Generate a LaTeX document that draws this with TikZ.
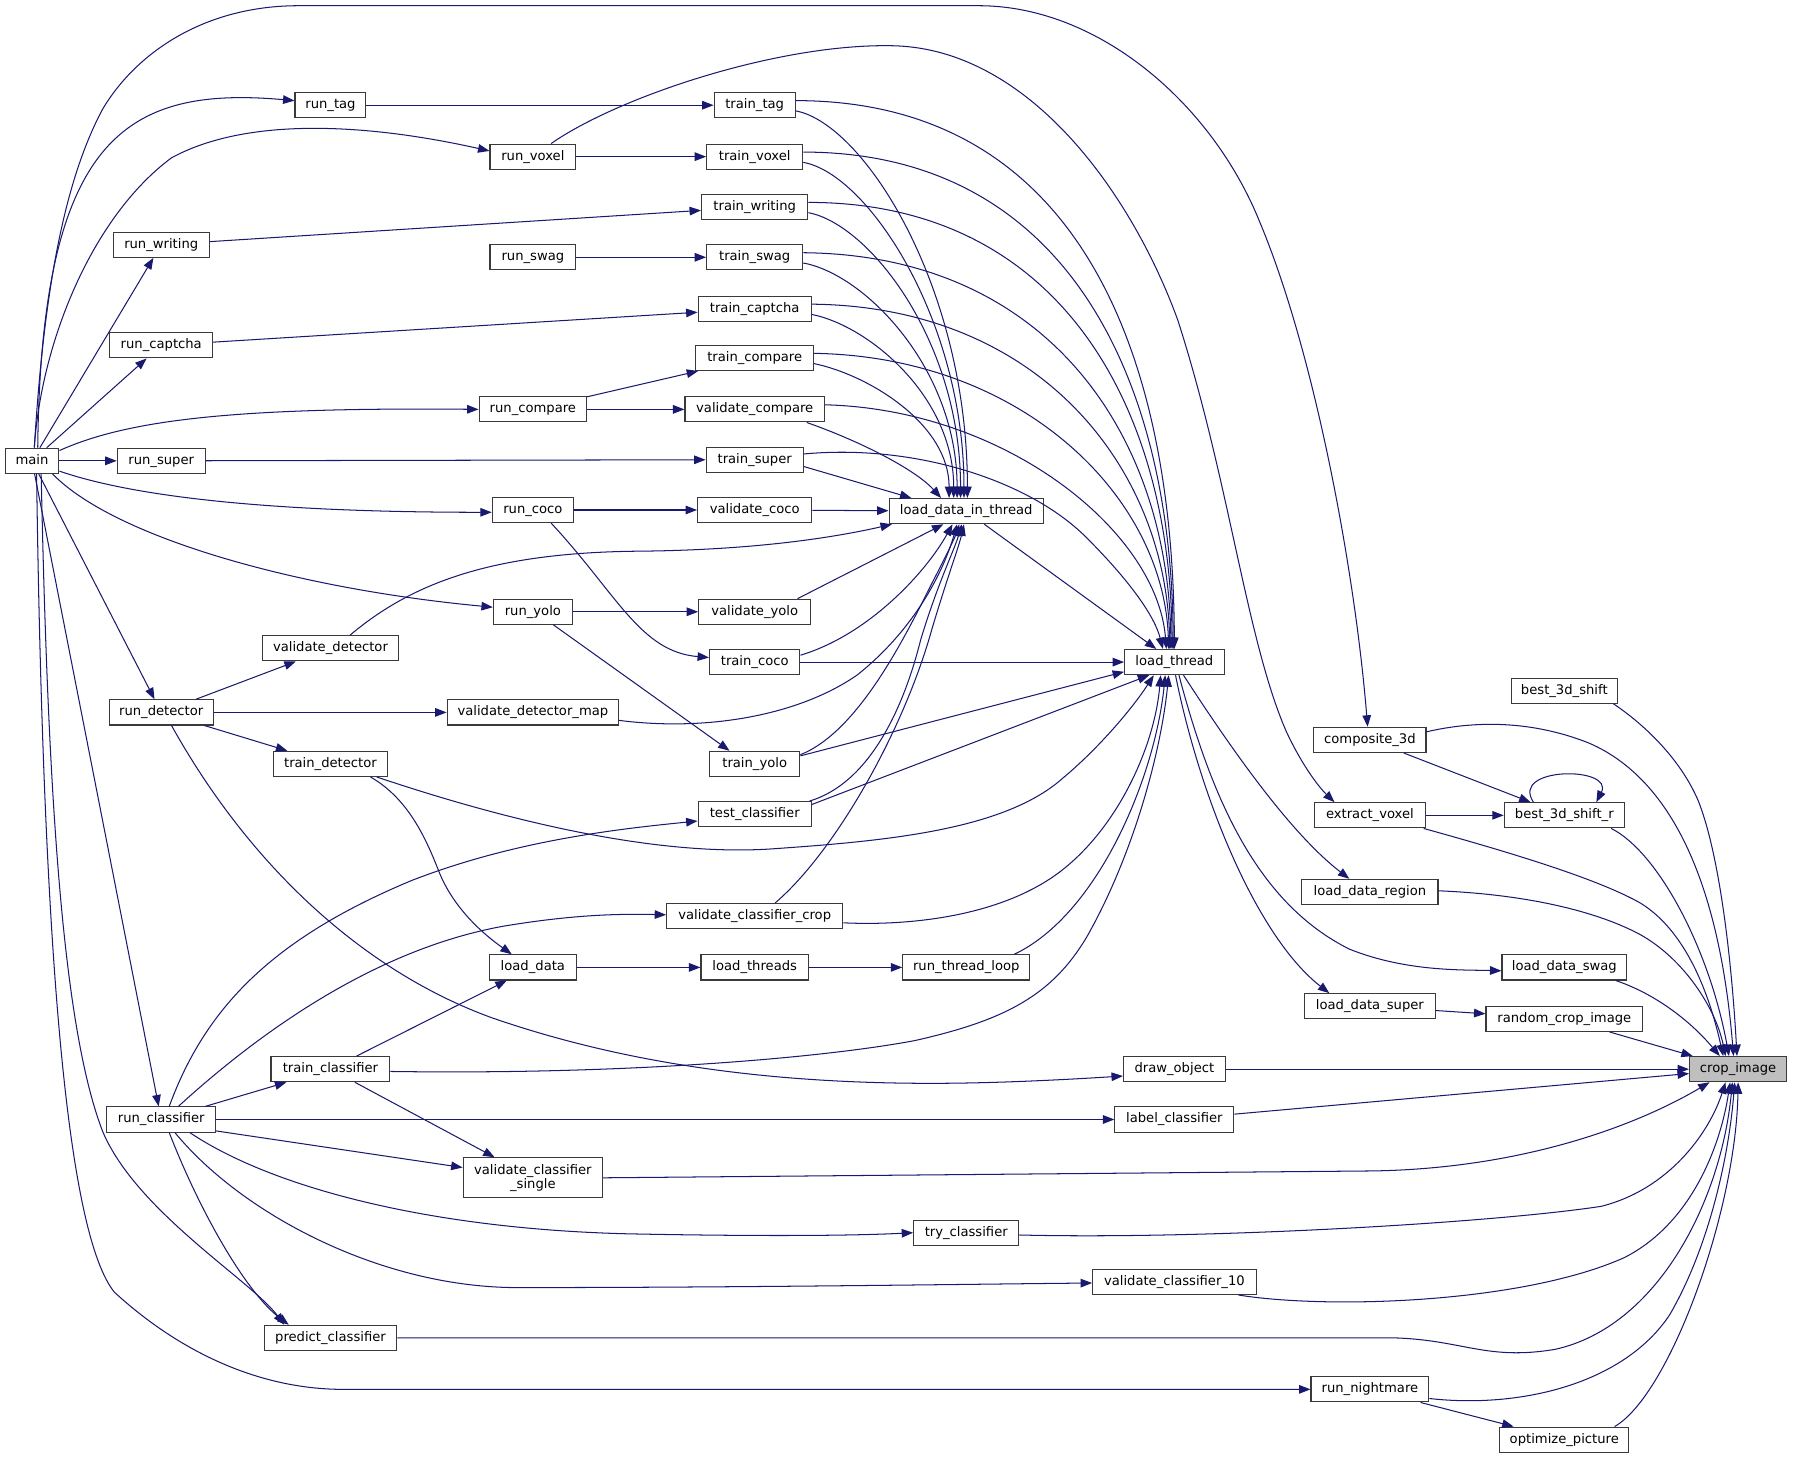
\documentclass[tikz,border=0pt]{standalone}
\usepackage{fontspec}
\setmainfont{DejaVu Sans}
\usetikzlibrary{arrows.meta,calc}
\definecolor{edgec}{HTML}{191970}
\definecolor{hl}{HTML}{BFBFBF}
\definecolor{bord}{HTML}{3A3A3A}
\tikzset{
  base/.style={draw=bord, line width=0.95pt, fill=white, inner xsep=4pt, inner ysep=0pt, font=\fontsize{11.5}{12.5}\selectfont},
  box/.style={base, minimum height=22pt, text height=8.6pt, text depth=2.6pt},
  boxtwo/.style={base, minimum height=35pt, align=center},
  bw/.style={minimum width=#1pt},
  e/.style={draw=edgec, line width=0.9pt, -{Triangle[length=10pt,width=7.5pt]}},
}
\begin{document}
\begin{tikzpicture}[x=1pt,y=-1pt]
\fill[white] (0,0) rectangle (1568,1276);
\useasboundingbox (0,0) rectangle (1568,1276);
% nodes
\node[box,bw=47] (main) at (28,403) {main};
\node[box,bw=62] (rtag) at (289,92) {run\_tag};
\node[box,bw=75] (rvox) at (466,137) {run\_voxel};
\node[box,bw=84] (rwri) at (141,214) {run\_writing};
\node[box,bw=75] (rswag) at (466,225) {run\_swag};
\node[box,bw=90] (rcap) at (141,302) {run\_captcha};
\node[box,bw=94] (rcmp) at (466,358) {run\_compare};
\node[box,bw=77] (rsup) at (141,403) {run\_super};
\node[box,bw=71] (rcoco) at (466,446) {run\_coco};
\node[box,bw=69] (ryolo) at (466,535) {run\_yolo};
\node[box,bw=119] (vdet) at (289,567) {validate\_detector};
\node[box,bw=91] (rdet) at (141,623) {run\_detector};
\node[box,bw=150] (vdmap) at (466,623) {validate\_detector\_map};
\node[box,bw=100] (tdet) at (289,668) {train\_detector};
\node[box,bw=76] (ldata) at (466,846) {load\_data};
\node[box,bw=104] (tcls) at (289,935) {train\_classifier};
\node[box,bw=95] (rcls) at (141,979) {run\_classifier};
\node[boxtwo,bw=122] (vcs) at (466,1030) {validate\_classifier\\\_single};
\node[box,bw=116] (pcls) at (289,1170) {predict\_classifier};
\node[box,bw=71] (ttag) at (660,92) {train\_tag};
\node[box,bw=84] (tvox) at (660,137) {train\_voxel};
\node[box,bw=93] (twri) at (660,181) {train\_writing};
\node[box,bw=84] (tswag) at (660,225) {train\_swag};
\node[box,bw=99] (tcap) at (660,270) {train\_captcha};
\node[box,bw=103] (tcmp) at (660,313) {train\_compare};
\node[box,bw=122] (vcmp) at (660,358) {validate\_compare};
\node[box,bw=85] (tsup) at (660,402) {train\_super};
\node[box,bw=100] (vcoco) at (660,446) {validate\_coco};
\node[box,bw=98] (vyolo) at (660,535) {validate\_yolo};
\node[box,bw=79] (tcoco) at (660,579) {train\_coco};
\node[box,bw=79] (tyolo) at (660,668) {train\_yolo};
\node[box,bw=99] (tstcls) at (660,712) {test\_classifier};
\node[box,bw=154] (vcc) at (660,801) {validate\_classifier\_crop};
\node[box,bw=94] (lthreads) at (660,846) {load\_threads};
\node[box,bw=135] (ldit) at (845,447) {load\_data\_in\_thread};
\node[box,bw=111] (rtl) at (845,846) {run\_thread\_loop};
\node[box,bw=92] (trycls) at (845,1078) {try\_classifier};
\node[box,bw=87] (lt) at (1027,579) {load\_thread};
\node[box,bw=89] (dobj) at (1027,935) {draw\_object};
\node[box,bw=104] (lcls) at (1027,979) {label\_classifier};
\node[box,bw=143] (vc10) at (1027,1121) {validate\_classifier\_10};
\node[box,bw=98] (c3d) at (1198,647) {composite\_3d};
\node[box,bw=97] (evox) at (1198,713) {extract\_voxel};
\node[box,bw=119] (ldreg) at (1198,780) {load\_data\_region};
\node[box,bw=114] (ldsup) at (1198,880) {load\_data\_super};
\node[box,bw=103] (rnm) at (1198,1215) {run\_nightmare};
\node[box,bw=93] (b3s) at (1368,604) {best\_3d\_shift};
\node[box,bw=105] (b3sr) at (1368,713) {best\_3d\_shift\_r};
\node[box,bw=109] (ldswag) at (1368,846) {load\_data\_swag};
\node[box,bw=137] (rci) at (1368,891) {random\_crop\_image};
\node[box,bw=113] (opt) at (1368,1259) {optimize\_picture};
\node[box,bw=85,fill=hl] (crop) at (1520,935) {crop\_image};
% main edges
\draw[e] ($(main.north)+(5,0)$) .. controls (36,120) and (110,75) .. ($(rtag.west)+(0,-4)$);
\draw[e] ($(main.north)+(2,0)$) .. controls (36,300) and (80,190) .. (150,138) .. controls (220,100) and (330,110) .. ($(rvox.west)+(0,-5)$);
\draw[e] (main) -- (rwri);
\draw[e] (main) -- (rcap);
\draw[e] ($(main.east)+(0,-9)$) .. controls (110,368) and (200,356) .. (rcmp.west);
\draw[e] (main) -- (rsup);
\draw[e] ($(main.east)+(0,9)$) .. controls (110,432) and (220,448) .. ($(rcoco.west)+(0,2)$);
\draw[e] ($(main.south east)+(-6,0)$) .. controls (100,470) and (260,515) .. ($(ryolo.west)+(0,-4)$);
\draw[e] (main) -- (rdet);
\draw[e] (main) -- (rcls);
\draw[e] ($(main.south)+(8,0)$) .. controls (42,700) and (55,900) .. (90,990) .. controls (120,1060) and (220,1120) .. ($(pcls.north west)+(18,0)$);
\draw[e] ($(main.south)+(4,0)$) .. controls (38,850) and (60,1080) .. (100,1130) .. controls (160,1185) and (230,1215) .. (300,1215) -- (rnm.west);
\draw[e] ($(main.north)+(2,0)$) .. controls (38,260) and (55,160) .. (90,95) .. controls (120,45) and (180,5) .. (261,5) -- (856,5) .. controls (960,5) and (1060,90) .. (1102,195) .. controls (1150,310) and (1185,500) .. ($(c3d.north)+(-2,0)$);
% second column
\draw[e] (rtag) -- (ttag);
\draw[e] (rvox) -- (tvox);
\draw[e] ($(rvox.north)+(16,0)$) .. controls (540,85) and (680,38) .. (780,40) .. controls (900,42) and (990,170) .. (1030,280) .. controls (1075,420) and (1090,560) .. (1125,640) .. controls (1140,672) and (1155,690) .. ($(evox.north west)+(18,0)$);
\draw[e] (rwri) -- (twri);
\draw[e] (rswag) -- (tswag);
\draw[e] (rcap) -- (tcap);
\draw[e] (rcmp) -- (tcmp);
\draw[e] (rcmp) -- (vcmp);
\draw[e] (rsup) -- (tsup);
\draw[e] (rcoco) -- (vcoco);
\draw[e] ($(rcoco.south)+(16,0)$) .. controls (540,520) and (560,570) .. ($(tcoco.west)+(0,-4)$);
\draw[e] (ryolo) -- (vyolo);
\draw[e] ($(ryolo.south)+(18,0)$) -- ($(tyolo.north)+(-22,0)$);
\draw[e] (rdet) -- (vdet);
\draw[e] (rdet) -- (vdmap);
\draw[e] (rdet) -- (tdet);
\draw[e] ($(rdet.south)+(9,0)$) .. controls (220,760) and (320,850) .. (430,890) .. controls (560,935) and (700,950) .. (850,947) .. controls (900,946) and (950,943) .. ($(dobj.west)+(0,6)$);
\draw[e] ($(vdet.north)+(17,0)$) .. controls (360,510) and (430,483) .. (560,482) .. controls (660,481) and (730,470) .. ($(ldit.south west)+(3,0)$);
\draw[e] ($(vdmap.east)+(0,7)$) .. controls (620,640) and (700,625) .. (750,590) .. controls (800,550) and (825,500) .. ($(ldit.south)+(-8,0)$);
\draw[e] ($(tdet.south)+(35,0)$) .. controls (360,700) and (375,740) .. (385,765) .. controls (400,800) and (430,822) .. ($(ldata.north west)+(20,0)$);
\draw[e] ($(tdet.south east)+(-10,0)$) .. controls (450,720) and (580,750) .. (680,742) .. controls (780,735) and (880,725) .. (930,680) .. controls (960,655) and (990,620) .. ($(lt.south)+(-18,0)$);
\draw[e] (tcls) -- (ldata);
\draw[e] (tcls) -- (vcs);
\draw[e] ($(tcls.east)+(0,2)$) .. controls (550,940) and (720,925) .. (800,910) .. controls (880,892) and (920,870) .. (950,820) .. controls (990,750) and (1015,660) .. ($(lt.south)+(-5,0)$);
\draw[e] (rcls) -- (tcls);
\draw[e] ($(rcls.north)+(7,0)$) .. controls (180,880) and (240,820) .. (360,770) .. controls (450,735) and (540,725) .. ($(tstcls.west)+(0,6)$);
\draw[e] ($(rcls.north)+(15,0)$) .. controls (230,900) and (330,830) .. (440,810) .. controls (500,800) and (540,799) .. ($(vcc.west)+(0,-1)$);
\draw[e] (rcls) -- (lcls);
\draw[e] ($(rcls.east)+(0,10)$) -- ($(vcs.west)+(0,-9)$);
\draw[e] ($(rcls.south)+(25,0)$) .. controls (240,1040) and (380,1075) .. (550,1079) .. controls (650,1081) and (740,1081) .. (trycls.west);
\draw[e] ($(rcls.south)+(12,0)$) .. controls (210,1060) and (330,1125) .. (450,1126) .. controls (650,1126) and (850,1123) .. ($(vc10.west)+(0,1)$);
\draw[e] ($(rcls.south)+(7,0)$) .. controls (175,1060) and (215,1130) .. ($(pcls.north west)+(22,0)$);
% into crop_image
\draw[e] (pcls.east) -- (1220,1170) .. controls (1280,1172) and (1300,1190) .. (1360,1180) .. controls (1450,1160) and (1505,1050) .. ($(crop.south)+(-5,0)$);
\draw[e] (vcs.east) -- (1200,1024) .. controls (1330,1022) and (1430,985) .. ($(crop.south west)+(18,0)$);
\draw[e] ($(trycls.east)+(0,2)$) .. controls (1050,1084) and (1300,1070) .. (1400,1055) .. controls (1460,1040) and (1495,990) .. ($(crop.south)+(-11,0)$);
\draw[e] ($(vc10.south east)+(-16,0)$) .. controls (1160,1145) and (1330,1140) .. (1420,1100) .. controls (1480,1070) and (1505,1000) .. ($(crop.south)+(-7,0)$);
\draw[e] ($(rnm.east)+(0,8)$) .. controls (1330,1232) and (1420,1210) .. (1460,1150) .. controls (1495,1090) and (1512,1010) .. ($(crop.south)+(-3,0)$);
\draw[e] (rnm) -- (opt);
\draw[e] ($(opt.north east)+(-13,0)$) .. controls (1460,1220) and (1518,1060) .. (crop.south);
\draw[e] (dobj) -- (crop);
\draw[e] (lcls) -- (crop);
\draw[e] (rci) -- (crop);
\draw[e] (ldsup) -- (rci);
\draw[e] ($(ldswag.south east)+(-10,0)$) .. controls (1450,870) and (1480,895) .. ($(crop.north)+(-16,0)$);
\draw[e] ($(ldreg.east)+(0,-1)$) .. controls (1330,782) and (1390,795) .. (1430,815) .. controls (1470,835) and (1500,880) .. ($(crop.north)+(-11,0)$);
\draw[e] (evox) -- (b3sr);
\draw[e] ($(evox.south east)+(-2,0)$) .. controls (1330,748) and (1400,770) .. (1435,790) .. controls (1475,815) and (1495,870) .. ($(crop.north)+(-13,0)$);
\draw[e] ($(b3sr.south east)+(-12,0)$) .. controls (1450,745) and (1495,830) .. ($(crop.north)+(-8,0)$);
\draw[e] ($(b3sr.north)+(-27,0)$) .. controls (1320,670) and (1412,670) .. ($(b3sr.north)+(28,0)$);
\draw[e] (c3d) -- (b3sr);
\draw[e] ($(c3d.east)+(0,-7)$) .. controls (1290,630) and (1340,630) .. (1390,650) .. controls (1470,685) and (1505,790) .. ($(crop.north)+(-4,0)$);
\draw[e] ($(b3s.south east)+(-4,0)$) .. controls (1440,635) and (1470,665) .. (1485,700) .. controls (1505,750) and (1515,850) .. ($(crop.north)+(-1,0)$);
% out of load_thread
\draw[e] ($(lt.south)+(8,0)$) .. controls (1080,660) and (1130,730) .. ($(ldreg.north)+(-18,0)$);
\draw[e] ($(lt.south)+(4,0)$) .. controls (1060,700) and (1100,790) .. (1180,830) .. controls (1230,850) and (1280,848) .. ($(ldswag.west)+(0,3)$);
\draw[e] ($(lt.south)+(1,0)$) .. controls (1050,700) and (1100,820) .. ($(ldsup.north west)+(22,0)$);
% into load_thread / load_data_in_thread
\draw[e] (ldit) -- (lt);
\draw[e] ($(rtl.north east)+(-14,0)$) .. controls (960,800) and (1010,680) .. ($(lt.south)+(-8,0)$);
\draw[e] (ldata) -- (lthreads);
\draw[e] (lthreads) -- (rtl);
\draw[e] ($(vcc.north)+(18,0)$) .. controls (730,745) and (790,640) .. (815,550) .. controls (830,500) and (838,480) .. ($(ldit.south)+(-2,0)$);
\draw[e] ($(vcc.east)+(0,6)$) .. controls (800,810) and (880,800) .. (930,760) .. controls (980,720) and (1010,650) .. ($(lt.south)+(-12,0)$);
\draw[e] ($(tstcls.north east)+(-2,0)$) .. controls (760,685) and (790,620) .. (805,560) .. controls (820,510) and (835,480) .. ($(ldit.south)+(-4,0)$);
\draw[e] ($(tstcls.north east)+(0,3)$) -- ($(lt.south)+(-22,0)$);
\draw[e] ($(tyolo.east)+(0,-8)$) .. controls (750,640) and (790,560) .. (815,510) .. controls (828,485) and (835,470) .. ($(ldit.south)+(-6,0)$);
\draw[e] ($(tyolo.east)+(0,-7)$) -- ($(lt.south west)+(0,-3)$);
\draw[e] ($(tcoco.east)+(0,-6)$) .. controls (760,555) and (810,500) .. ($(ldit.south)+(-12,0)$);
\draw[e] (tcoco) -- (lt);
\draw[e] ($(vyolo.north east)+(-12,0)$) -- ($(ldit.south)+(-20,0)$);
\draw[e] (vcoco) -- (ldit);
\draw[e] ($(tsup.east)+(0,6)$) -- ($(ldit.north west)+(20,0)$);
\draw[e] ($(tsup.east)+(0,-5)$) .. controls (800,388) and (900,420) .. (950,470) .. controls (990,510) and (1010,540) .. ($(lt.north)+(-10,0)$);
\draw[e] ($(ttag.east)+(0,-4)$) .. controls (940,88) and (1026,304) .. (lt.north);
\draw[e] ($(ttag.east)+(0,5)$) .. controls (755,108) and (846,250) .. ($(ldit.north)+(1,0)$);
\draw[e] ($(tvox.east)+(0,-4)$) .. controls (935,133) and (1025,335) .. ($(lt.north)+(-1,0)$);
\draw[e] ($(tvox.east)+(0,5)$) .. controls (759,152) and (843,280) .. ($(ldit.north)+(-2,0)$);
\draw[e] ($(twri.east)+(0,-4)$) .. controls (930,177) and (1024,360) .. ($(lt.north)+(-2,0)$);
\draw[e] ($(twri.east)+(0,5)$) .. controls (760,196) and (840,298) .. ($(ldit.north)+(-5,0)$);
\draw[e] ($(tswag.east)+(0,-4)$) .. controls (920,223) and (1022,385) .. ($(lt.north)+(-3,0)$);
\draw[e] ($(tswag.east)+(0,5)$) .. controls (757,240) and (837,323) .. ($(ldit.north)+(-8,0)$);
\draw[e] ($(tcap.east)+(0,-4)$) .. controls (910,268) and (1020,410) .. ($(lt.north)+(-4,0)$);
\draw[e] ($(tcap.east)+(0,5)$) .. controls (760,285) and (834,347) .. ($(ldit.north)+(-11,0)$);
\draw[e] ($(tcmp.east)+(0,-4)$) .. controls (895,312) and (1018,435) .. ($(lt.north)+(-5,0)$);
\draw[e] ($(tcmp.east)+(0,5)$) .. controls (760,328) and (830,371) .. ($(ldit.north)+(-15,0)$);
\draw[e] ($(vcmp.east)+(0,-4)$) .. controls (880,358) and (1012,465) .. ($(lt.north)+(-7,0)$);
\draw[e] ($(vcmp.south east)+(-16,0)$) .. controls (750,385) and (800,410) .. ($(ldit.north)+(-22,0)$);
\end{tikzpicture}
\end{document}
